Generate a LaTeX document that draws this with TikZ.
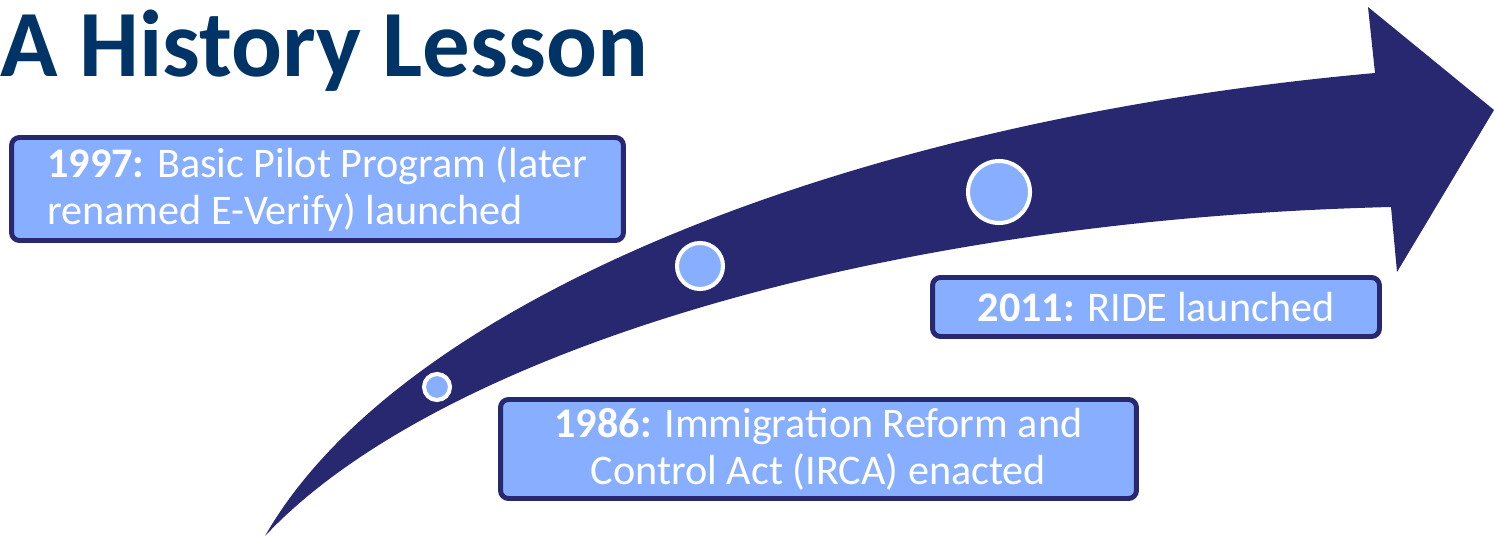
\documentclass[tikz,border=0pt]{standalone}
\usepackage{fontspec}
\setmainfont{Carlito}
\usetikzlibrary{positioning}

\definecolor{titleblue}{RGB}{0,51,102}
\definecolor{arrowblue}{RGB}{40,40,112}
\definecolor{boxblue}{RGB}{136,174,255}

\tikzset{
  eventbox/.style={draw=arrowblue, fill=boxblue, line width=2.8pt, rounded corners=4.5pt,
    text=white, font=\fontsize{24}{26.7}\selectfont, inner sep=0pt},
  dot/.style={circle, draw=white, fill=boxblue, line width=2.3pt, inner sep=0pt}
}

\begin{document}
\begin{tikzpicture}[x=0.02cm,y=-0.02cm]
  \useasboundingbox (0,0) rectangle (1494,537);
  % the timeline arrow
  \fill[arrowblue] (265,536) .. controls (400,300) and (850,120) .. (1375,73)
    -- (1368,7) -- (1494,110) -- (1397,272) -- (1391,207)
    .. controls (860,220) and (430,360) .. (265,536) -- cycle;
  \node[anchor=base west, inner sep=0pt, text=titleblue,
    font=\fontsize{54}{60}\selectfont\bfseries] (title) at (0,77) {A History Lesson};
  % milestones
  \foreach \x/\y/\d/\n in {437/387/0.52/dot1986, 700/266/0.92/dot1997, 999/192/1.24/dot2011}{
    \node[dot, minimum size=\d cm] (\n) at (\x,\y) {};
  }
  \node[eventbox, align=left, minimum width=12.24cm, minimum height=2.06cm] (ev1997) at (317.5,189)
    {\textbf{1997:} Basic Pilot Program (later\\renamed E-Verify) launched};
  \node[eventbox, align=center, minimum width=12.72cm, minimum height=1.98cm] (ev1986) at (818.5,449)
    {\textbf{1986:} Immigration Reform and\\Control Act (IRCA) enacted};
  \node[eventbox, align=center, minimum width=8.94cm, minimum height=1.18cm] (ev2011) at (1156,307)
    {\textbf{2011:} RIDE launched};
\end{tikzpicture}
\end{document}
